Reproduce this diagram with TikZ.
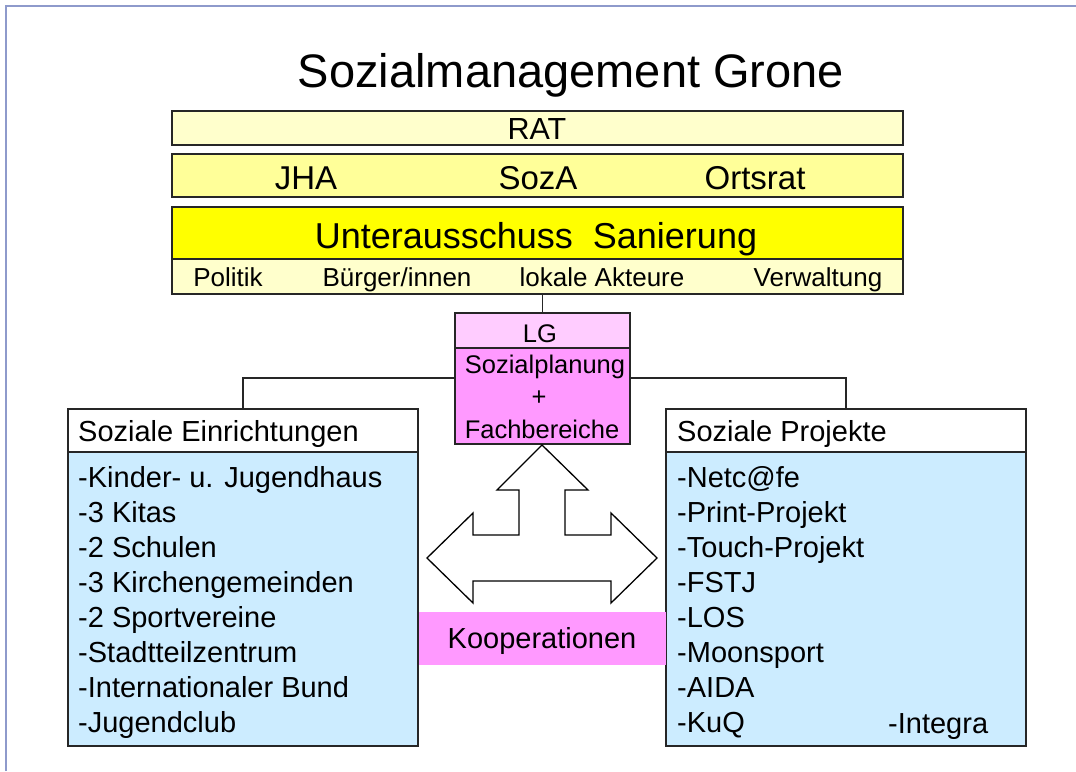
\documentclass[tikz,border=0pt]{standalone}
\usepackage{fontspec}
\setmainfont{Liberation Sans}
\definecolor{framecol}{HTML}{8E9ACB}
\definecolor{boxline}{HTML}{262626}
\definecolor{paleyel}{HTML}{FFFFCC}
\definecolor{midyel}{HTML}{FFFF99}
\definecolor{fullyel}{HTML}{FFFF00}
\definecolor{palepink}{HTML}{FFCCFF}
\definecolor{pink}{HTML}{FF99FF}
\definecolor{paleblue}{HTML}{CCECFF}
\newcommand\myfs[1]{\fontsize{#1}{#1}\selectfont}
\begin{document}
\begin{tikzpicture}[x=1pt,y=-1pt,
  box/.style={draw=boxline, line width=1.3pt, inner sep=0pt},
  txt/.style={anchor=base, inner sep=0pt, text=black},
  ltxt/.style={anchor=base west, inner sep=0pt, text=black},
  conn/.style={draw=boxline, line width=1.2pt}]
\useasboundingbox (0,0) rectangle (1076,771);
% frame
\draw[framecol, line width=2pt] (6,771) -- (6,6) -- (1076,6);
% title
\node[txt, font=\myfs{47}] (title) at (571,87) {Sozialmanagement Grone};
% top rows
\node[box, fill=paleyel, minimum width=731pt, minimum height=34pt] (rat) at (537.5,128) {};
\node[txt, font=\myfs{30.5}] (rattxt) at (537,139) {RAT};
\node[box, fill=midyel, minimum width=731pt, minimum height=43pt] (jha) at (537.5,175.5) {};
\node[txt, font=\myfs{33}] (jhatxt) at (306,189) {JHA};
\node[txt, font=\myfs{33}] (soza) at (538,189) {SozA};
\node[txt, font=\myfs{33}] (orts) at (755,189) {Ortsrat};
\node[box, fill=fullyel, minimum width=731pt, minimum height=52pt] (unter) at (537.5,233) {};
\node[txt, font=\myfs{36}] (untertxt) at (536,248) {Unterausschuss\ \ Sanierung};
\node[box, fill=paleyel, minimum width=731pt, minimum height=35pt] (rolle) at (537.5,276.5) {};
\node[txt, font=\myfs{26}] (pol) at (228,286) {Politik};
\node[txt, font=\myfs{26}] (bue) at (397,286) {Bürger/innen};
\node[txt, font=\myfs{26}] (lok) at (602,286) {lokale Akteure};
\node[txt, font=\myfs{26}] (ver) at (818,286) {Verwaltung};
% LG block
\node[box, fill=palepink, minimum width=175pt, minimum height=35pt] (lg) at (542.5,330.5) {};
\node[txt, font=\myfs{25.5}] (lgtxt) at (540,342) {LG};
\node[box, fill=pink, minimum width=175pt, minimum height=96pt] (sp) at (542.5,396) {};
\node[txt, font=\myfs{25.5}] (sp1) at (545,373) {Sozialplanung};
\node[txt, font=\myfs{25.5}] (sp2) at (539,405.5) {+};
\node[txt, font=\myfs{25.5}] (sp3) at (542,438) {Fachbereiche};
% side boxes
\node[box, fill=white, minimum width=350pt, minimum height=43pt] (sein) at (243,430.5) {};
\node[ltxt, font=\myfs{29}] (seintxt) at (78,441) {Soziale Einrichtungen};
\node[box, fill=paleblue, minimum width=350pt, minimum height=294pt] (seinb) at (243,599) {};
\node[box, fill=white, minimum width=360pt, minimum height=43pt] (sproj) at (846,430.5) {};
\node[ltxt, font=\myfs{29}] (sprojtxt) at (677,441) {Soziale Projekte};
\node[box, fill=paleblue, minimum width=360pt, minimum height=294pt] (sprojb) at (846,599) {};
\foreach \t [count=\i from 0] in {-Kinder- u. Jugendhaus,-3 Kitas,-2 Schulen,-3 Kirchengemeinden,-2 Sportvereine,-Stadtteilzentrum,-Internationaler Bund,-Jugendclub}
  \node[ltxt, font=\myfs{29}] (l\i) at (78,487+35.14*\i) {\t};
\foreach \t [count=\i from 0] in {-Netc@fe,-Print-Projekt,-Touch-Projekt,-FSTJ,-LOS,-Moonsport,-AIDA,-KuQ}
  \node[ltxt, font=\myfs{29}] (r\i) at (677,487+35.14*\i) {\t};
\node[ltxt, font=\myfs{29}] (integra) at (888,733) {-Integra};
% Kooperationen
\node[fill=pink, inner sep=0pt, minimum width=247pt, minimum height=53pt] (koop) at (542.5,638.5) {};
\node[txt, font=\myfs{29}] (kooptxt) at (542,648) {Kooperationen};
% connectors
\coordinate (j) at (542,378);
\draw[conn] (lg.north |- rolle.south) -- (lg.north);
\draw[conn] (sp.west |- j) -| (sein.north);
\draw[conn] (sp.east |- j) -| (sproj.north);
% three-way arrow
\draw[draw=black, line width=1.3pt, fill=white, line join=miter]
  (542,445) -- (588,490) -- (565,490) -- (565,535) -- (611,535) -- (611,513)
  -- (657,558) -- (611,603) -- (611,581) -- (473,581) -- (473,603) -- (427,558)
  -- (473,513) -- (473,535) -- (519,535) -- (519,490) -- (497,490) -- cycle;
\end{tikzpicture}
\end{document}
